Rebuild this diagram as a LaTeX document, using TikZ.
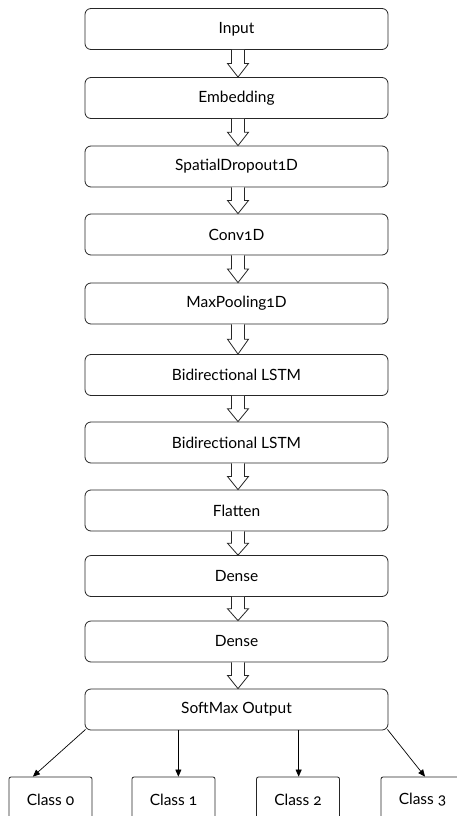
\documentclass[tikz,border=0pt]{standalone}
\usepackage{fontspec}
\setmainfont{Lato}[Numbers=OldStyle]
\usetikzlibrary{calc,arrows.meta}
\tikzset{
  layer/.style={draw=black!85, line width=0.8pt, rounded corners=6pt, minimum width=303pt, minimum height=41pt, inner sep=0pt, font=\fontsize{15.5}{18}\selectfont},
  classbox/.style={draw=black!85, line width=0.8pt, rounded corners=2pt, minimum width=83pt, minimum height=46pt, inner sep=0pt, font=\fontsize{15.5}{18}\selectfont},
  barrow/.style={draw=black!85, line width=0.8pt, fill=white, line join=miter},
  carrow/.style={draw=black, line width=0.7pt, -{Triangle[length=7pt,width=6pt]}}
}
\newcommand\blockarr[2]{%
  \draw[barrow] ($(#1.south)+(-5,0)$) -- ($(#1.south)!0.5!(#2.north)+(-5,0)$)
    -- ($(#1.south)!0.5!(#2.north)+(-9,0)$) -- ($(#2.north)+(1.5,0)$)
    -- ($(#1.south)!0.5!(#2.north)+(12,0)$) -- ($(#1.south)!0.5!(#2.north)+(8,0)$)
    -- ($(#1.south)+(8,0)$);}
\begin{document}
\begin{tikzpicture}[x=1pt,y=-1pt]
\useasboundingbox (0,0) rectangle (456,816);
\fill[white] (0,0) rectangle (456,816);
\node[layer] (n1) at (236.5,29) {Input};
\node[layer] (n2) at (236.5,98) {Embedding};
\node[layer] (n3) at (236.5,166.5) {SpatialDropout1D};
\node[layer] (n4) at (236.5,234.5) {Conv1D};
\node[layer] (n5) at (236.5,303.5) {MaxPooling1D};
\node[layer] (n6) at (236.5,375) {Bidirectional LSTM};
\node[layer] (n7) at (236.5,442.5) {Bidirectional LSTM};
\node[layer] (n8) at (236.5,510.5) {Flatten};
\node[layer] (n9) at (236.5,576) {Dense};
\node[layer] (n10) at (236.5,641.5) {Dense};
\node[layer] (n11) at (236.5,709.5) {SoftMax Output};
\foreach \a/\b in {n1/n2,n2/n3,n3/n4,n4/n5,n5/n6,n6/n7,n7/n8,n8/n9,n9/n10,n10/n11}{\blockarr{\a}{\b}}
\node[classbox] (c0) at (50.5,800) {Class 0};
\node[classbox] (c1) at (173.5,800) {Class 1};
\node[classbox] (c2) at (298,800) {Class 2};
\node[classbox] (c3) at (422.5,800) {Class 3};
\coordinate (s1) at ($(n11.south west)!0.3086!(n11.south east)$);
\coordinate (s2) at ($(n11.south west)!0.7046!(n11.south east)$);
\draw[carrow] ($(n11.south west)+(1,-1)$) -- ($(c0.north west)!0.29!(c0.north east)$);
\draw[carrow] (s1) -- (s1 |- c1.north);
\draw[carrow] (s2) -- (s2 |- c2.north);
\draw[carrow] ($(n11.south east)+(-1,-1)$) -- ($(c3.north west)!0.53!(c3.north east)$);
\end{tikzpicture}
\end{document}
